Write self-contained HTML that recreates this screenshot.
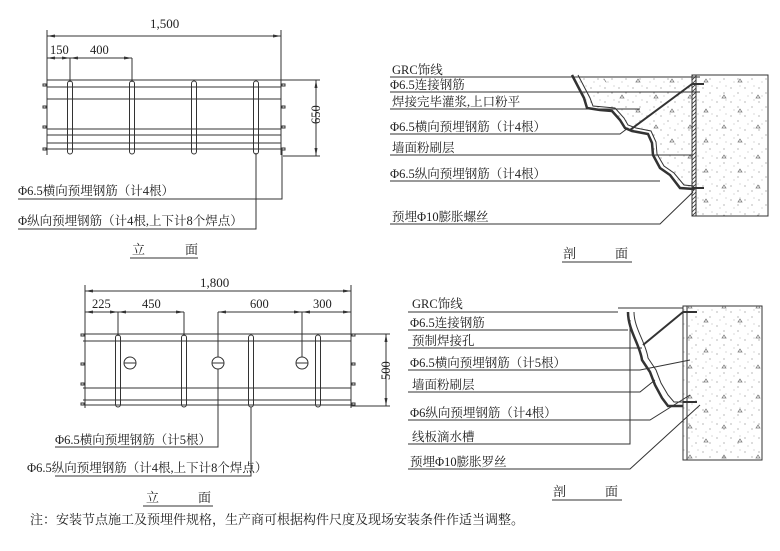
<!DOCTYPE html>
<html><head><meta charset="utf-8"><style>
body{margin:0;background:#fff}
svg{display:block}
text{font-family:"Liberation Serif","Noto Serif CJK SC","Noto Sans CJK SC",serif;fill:#222}
</style></head><body>
<svg width="780" height="551" viewBox="0 0 780 551" xmlns="http://www.w3.org/2000/svg">
<defs>
<pattern id="dots" width="14" height="14" patternUnits="userSpaceOnUse">
<circle cx="3" cy="4" r="0.6" fill="#888"/><circle cx="10" cy="9" r="0.6" fill="#888"/><circle cx="6" cy="12" r="0.5" fill="#999"/><circle cx="12" cy="2" r="0.5" fill="#999"/>
</pattern>
<pattern id="tri" width="34" height="30" patternUnits="userSpaceOnUse">
<path d="M8 8l4 0l-2 -3z M24 22l4 0l-2 -3z" fill="none" stroke="#777" stroke-width="0.7"/>
</pattern>
<pattern id="hatch" width="4" height="4" patternUnits="userSpaceOnUse"><path d="M0 4L4 0" stroke="#333" stroke-width="0.8"/></pattern>
<marker id="ar" markerWidth="8" markerHeight="6" refX="8" refY="3" orient="auto-start-reverse" markerUnits="userSpaceOnUse"><path d="M0 1.5L8 3L0 4.5z" fill="#333"/></marker>
</defs>
<g stroke="#333" stroke-width="1" fill="none">
<!-- top elevation dims -->
<line x1="47" y1="36" x2="281" y2="36" marker-start="url(#ar)" marker-end="url(#ar)"/>
<line x1="47" y1="30" x2="47" y2="155"/><line x1="281" y1="30" x2="281" y2="155"/>
<line x1="47" y1="58" x2="70" y2="58" marker-start="url(#ar)" marker-end="url(#ar)"/>
<line x1="70" y1="58" x2="132" y2="58" marker-start="url(#ar)" marker-end="url(#ar)"/>
<line x1="70" y1="58" x2="70" y2="82"/><line x1="132" y1="58" x2="132" y2="82"/>
<line x1="47" y1="80" x2="281" y2="80"/><line x1="47" y1="87" x2="281" y2="87"/>
<line x1="47" y1="99" x2="281" y2="99"/><line x1="47" y1="129" x2="281" y2="129"/>
<line x1="47" y1="135" x2="281" y2="135"/><line x1="47" y1="143" x2="281" y2="143"/>
<line x1="47" y1="149" x2="281" y2="149"/>
<rect x="43" y="84" width="3" height="2"/><rect x="43" y="106" width="3" height="2"/><rect x="43" y="126" width="3" height="2"/><rect x="43" y="148" width="3" height="2"/>
<rect x="282" y="84" width="3" height="2"/><rect x="282" y="106" width="3" height="2"/><rect x="282" y="126" width="3" height="2"/><rect x="282" y="148" width="3" height="2"/>
<rect x="67.5" y="81" width="5" height="73" rx="2.5"/><rect x="129.5" y="81" width="5" height="73" rx="2.5"/>
<rect x="191.5" y="81" width="5" height="73" rx="2.5"/><rect x="253.5" y="81" width="5" height="73" rx="2.5"/>
<line x1="281" y1="80" x2="320" y2="80"/><line x1="283" y1="156" x2="320" y2="156"/>
<line x1="316" y1="80" x2="316" y2="156" marker-start="url(#ar)" marker-end="url(#ar)"/>
<polyline points="18,199 282,199 282,150"/>
<polyline points="18,229 256,229 256,153"/>
<line x1="130" y1="258" x2="198" y2="258"/>

<!-- bottom elevation -->
<line x1="85" y1="291" x2="351" y2="291" marker-start="url(#ar)" marker-end="url(#ar)"/>
<line x1="85" y1="285" x2="85" y2="408"/><line x1="351" y1="285" x2="351" y2="408"/>
<line x1="85" y1="312" x2="118" y2="312" marker-start="url(#ar)" marker-end="url(#ar)"/>
<line x1="118" y1="312" x2="184" y2="312" marker-start="url(#ar)" marker-end="url(#ar)"/>
<line x1="218" y1="312" x2="302" y2="312" marker-start="url(#ar)" marker-end="url(#ar)"/>
<line x1="302" y1="312" x2="351" y2="312" marker-start="url(#ar)" marker-end="url(#ar)"/>
<line x1="118" y1="312" x2="118" y2="336"/><line x1="184" y1="312" x2="184" y2="336"/>
<line x1="218" y1="312" x2="218" y2="357"/><line x1="302" y1="312" x2="302" y2="357"/>
<line x1="83" y1="334" x2="351" y2="334"/><line x1="83" y1="341" x2="351" y2="341"/>
<line x1="83" y1="388" x2="351" y2="388"/><line x1="83" y1="400" x2="351" y2="400"/>
<line x1="83" y1="405" x2="351" y2="405"/>
<rect x="81" y="334" width="3" height="2"/><rect x="81" y="363" width="3" height="2"/><rect x="81" y="383" width="3" height="2"/><rect x="81" y="403" width="3" height="2"/>
<rect x="352" y="334" width="3" height="2"/><rect x="352" y="363" width="3" height="2"/><rect x="352" y="383" width="3" height="2"/><rect x="352" y="403" width="3" height="2"/>
<rect x="115.5" y="335" width="5" height="72" rx="2.5"/><rect x="181.5" y="335" width="5" height="72" rx="2.5"/>
<rect x="248.5" y="335" width="5" height="72" rx="2.5"/><rect x="315.5" y="335" width="5" height="72" rx="2.5"/>
<circle cx="130" cy="363" r="6"/><circle cx="218" cy="363" r="6"/><circle cx="302" cy="363" r="6"/>
<line x1="124" y1="363" x2="136" y2="363"/><line x1="212" y1="363" x2="224" y2="363"/><line x1="296" y1="363" x2="308" y2="363"/>
<line x1="351" y1="334" x2="390" y2="334"/><line x1="351" y1="406" x2="390" y2="406"/>
<line x1="386" y1="334" x2="386" y2="406" marker-start="url(#ar)" marker-end="url(#ar)"/>
<polyline points="55,447 218,447 218,369"/>
<polyline points="55,476 251,476 251,407"/>
<line x1="143" y1="506" x2="213" y2="506"/>

<!-- top section -->
<rect x="696" y="75" width="72" height="141" fill="url(#dots)"/>
<rect x="696" y="75" width="72" height="141" fill="url(#tri)"/>
<rect x="692" y="75" width="4" height="141" fill="url(#hatch)"/>
<polygon points="572,75 692,75 692,190 680,188 670,175 660,168 653,155 652,143 648,134 632,131 625,128 620,120 612,111 600,110 587,108 584,98" fill="url(#dots)" stroke="none"/>
<polygon points="600,75 692,75 692,170 660,150 620,100" fill="url(#tri)" stroke="none"/>
<polyline points="572,75 584,98 587,108 600,110 612,111 620,120 625,128 632,131 648,134 652,143 653,155 660,168 670,175 680,188 694,189" stroke-width="2.5"/>
<polyline points="578,75 590,98 593,106 604,107 615,108 624,118 628,125 636,128 651,131 656,142 657,154 664,166 674,173 684,185 694,186" stroke-width="1"/>
<line x1="630" y1="130" x2="692" y2="84" stroke-width="2"/>
<line x1="692" y1="84" x2="704" y2="84" stroke-width="2"/><line x1="692" y1="188" x2="704" y2="188" stroke-width="2"/>
<line x1="390" y1="77" x2="700" y2="77"/><line x1="390" y1="92" x2="700" y2="92"/>
<line x1="390" y1="109" x2="640" y2="109"/><polyline points="390,134 620,134 628,128"/>
<line x1="390" y1="155" x2="693" y2="155"/><line x1="390" y1="181" x2="660" y2="181"/>
<polyline points="390,224 660,224 693,192"/>
<line x1="562" y1="262" x2="632" y2="262"/>

<!-- bottom section -->
<rect x="683" y="306" width="79" height="154" fill="url(#dots)"/>
<rect x="687" y="306" width="75" height="154" fill="url(#tri)"/>
<line x1="683" y1="306" x2="683" y2="460"/><line x1="687" y1="306" x2="687" y2="460"/>
<rect x="683" y="306" width="79" height="154"/>
<line x1="618" y1="308" x2="683" y2="308"/>
<path d="M628 312 C628 330 640 345 642 360 L650 372 L655 385 L662 398 L668 406 L683 406" stroke-width="2.5"/>
<path d="M634 312 C634 328 646 343 648 358 L656 370 L661 383 L668 395 L674 402 L683 402" stroke-width="1"/>
<line x1="643" y1="345" x2="683" y2="312" stroke-width="2"/>
<line x1="683" y1="312" x2="697" y2="312" stroke-width="2"/><line x1="683" y1="402" x2="697" y2="402" stroke-width="2"/>
<line x1="408" y1="312" x2="618" y2="312"/>
<line x1="408" y1="330" x2="628" y2="330"/>
<line x1="408" y1="348" x2="642" y2="348"/>
<polyline points="408,370 640,370 690,360"/>
<polyline points="408,392 640,392 655,380"/>
<polyline points="408,420 650,420 690,395"/>
<polyline points="408,444 630,444 630,320"/>
<polyline points="408,469 630,469 700,405"/>
<line x1="552" y1="500" x2="622" y2="500"/>
</g>
<g font-size="12.5">
<text x="150" y="28" font-size="13">1,500</text>
<text x="50" y="54">150</text><text x="90" y="54">400</text>
<text x="304" y="128" transform="rotate(-90 310 118)">650</text>
<text x="18" y="195">Φ6.5横向预埋钢筋（计4根）</text>
<text x="18" y="225">Φ纵向预埋钢筋（计4根,上下计8个焊点）</text>
<text x="132" y="254" font-size="13">立</text><text x="185" y="254" font-size="13">面</text>
<text x="200" y="287" font-size="13">1,800</text>
<text x="92" y="308">225</text><text x="142" y="308">450</text><text x="250" y="308">600</text><text x="313" y="308">300</text>
<text x="370" y="380" transform="rotate(-90 380 370)">500</text>
<text x="55" y="444">Φ6.5横向预埋钢筋（计5根）</text>
<text x="27" y="472">Φ6.5纵向预埋钢筋（计4根,上下计8个焊点）</text>
<text x="146" y="502" font-size="13">立</text><text x="198" y="502" font-size="13">面</text>
<text x="30" y="524" font-size="13">注：安装节点施工及预埋件规格，生产商可根据构件尺度及现场安装条件作适当调整。</text>
<text x="392" y="74">GRC饰线</text>
<text x="390" y="89">Φ6.5连接钢筋</text>
<text x="392" y="106">焊接完毕灌浆,上口粉平</text>
<text x="390" y="131">Φ6.5横向预埋钢筋（计4根）</text>
<text x="392" y="152">墙面粉刷层</text>
<text x="390" y="178">Φ6.5纵向预埋钢筋（计4根）</text>
<text x="392" y="221">预埋Φ10膨胀螺丝</text>
<text x="563" y="258" font-size="13">剖</text><text x="615" y="258" font-size="13">面</text>
<text x="412" y="308">GRC饰线</text>
<text x="410" y="327">Φ6.5连接钢筋</text>
<text x="412" y="345">预制焊接孔</text>
<text x="410" y="367">Φ6.5横向预埋钢筋（计5根）</text>
<text x="412" y="389">墙面粉刷层</text>
<text x="410" y="417">Φ6纵向预埋钢筋（计4根）</text>
<text x="412" y="441">线板滴水槽</text>
<text x="410" y="466">预埋Φ10膨胀罗丝</text>
<text x="553" y="496" font-size="13">剖</text><text x="605" y="496" font-size="13">面</text>
</g>
</svg>
</body></html>
